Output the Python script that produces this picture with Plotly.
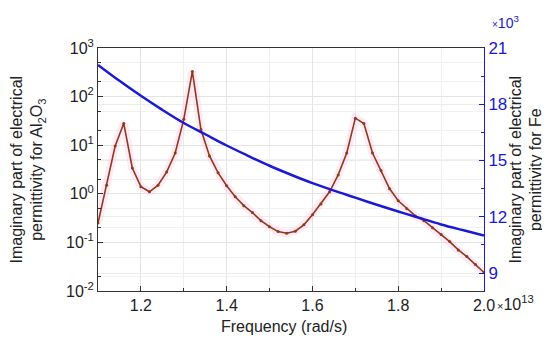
import plotly.graph_objects as go

# Frequency in units of 1e13 rad/s
freq_al = [1.10, 1.12, 1.14, 1.16, 1.18, 1.20, 1.22, 1.24, 1.26, 1.28,
           1.30, 1.32, 1.34, 1.36, 1.38, 1.40, 1.42, 1.44, 1.46, 1.48,
           1.50, 1.52, 1.54, 1.56, 1.58, 1.60, 1.62, 1.64, 1.66, 1.68,
           1.70, 1.72, 1.74, 1.76, 1.78, 1.80, 1.82, 1.84, 1.86, 1.88,
           1.90, 1.92, 1.94, 1.96, 1.98, 2.00]
eps_al = [0.25, 1.5, 9.6, 28, 3.4, 1.4, 1.1, 1.5, 2.8, 6.9,
          34, 330, 21, 6.0, 2.7, 1.46, 0.87, 0.57, 0.41, 0.28,
          0.21, 0.167, 0.154, 0.17, 0.23, 0.37, 0.62, 1.1, 2.45, 6.9,
          36, 28, 6.9, 3.0, 1.27, 0.72, 0.49, 0.35, 0.28, 0.20,
          0.145, 0.104, 0.07, 0.051, 0.035, 0.024]

freq_fe = [1.10, 1.15, 1.20, 1.25, 1.30, 1.35, 1.40, 1.45, 1.50, 1.55,
           1.60, 1.65, 1.70, 1.75, 1.80, 1.85, 1.90, 1.95, 2.00]
eps_fe = [20.1, 19.25, 18.45, 17.7, 17.0, 16.4, 15.8, 15.25, 14.72, 14.24,
          13.79, 13.39, 13.02, 12.64, 12.28, 11.93, 11.59, 11.29, 11.0]  # x1e3

x_ticks = [1.2, 1.4, 1.6, 1.8, 2.0]
x_ticklabels = ["1.2", "1.4", "1.6", "1.8", "2.0"]
yl_ticks = [0.01, 0.1, 1, 10, 100, 1000]
yl_ticklabels = ["10<sup>-2</sup>", "10<sup>-1</sup>", "10<sup>0</sup>",
                 "10<sup>1</sup>", "10<sup>2</sup>", "10<sup>3</sup>"]
yr_ticks = [9, 12, 15, 18, 21]
yr_ticklabels = ["9", "12", "15", "18", "21"]

RED = "#8e3a18"
BLUE = "#1a1ad6"
FONT = "Arial, Liberation Sans, sans-serif"

fig = go.Figure()
# faint pink halo
fig.add_trace(go.Scatter(x=freq_al, y=eps_al, mode="lines",
                         line=dict(color="rgba(255,190,230,0.3)", width=8),
                         hoverinfo="skip", showlegend=False))
fig.add_trace(go.Scatter(x=freq_al, y=eps_al, mode="lines+markers",
                         line=dict(color=RED, width=1.6),
                         marker=dict(color=RED, size=3),
                         showlegend=False))
fig.add_trace(go.Scatter(x=freq_fe, y=eps_fe, mode="lines", yaxis="y2",
                         line=dict(color=BLUE, width=2.5, shape="spline"),
                         showlegend=False))

fig.update_layout(
    width=550, height=338,
    margin=dict(l=90, r=74, t=40, b=55),
    paper_bgcolor="white", plot_bgcolor="white",
    font=dict(family=FONT, size=15, color="#222"),
    xaxis=dict(range=[1.1, 2.0], tickvals=x_ticks, ticktext=x_ticklabels,
               ticks="inside", ticklen=5, tickcolor="#333",
               showline=True, linecolor="#333", linewidth=1, mirror=True,
               showgrid=True, gridcolor="#e4e4e4", gridwidth=1,
               minor=dict(dtick=0.1, ticks="inside", ticklen=3,
                          tickcolor="#333", showgrid=True, gridcolor="#eeeeee"),
               zeroline=False, tickfont=dict(size=16)),
    yaxis=dict(type="log", range=[-2, 3], tickvals=yl_ticks,
               ticktext=yl_ticklabels, ticks="inside", ticklen=5,
               tickcolor="#333", showline=True, linecolor="#333",
               showgrid=True, gridcolor="#e4e4e4",
               minor=dict(ticks="inside", ticklen=3, tickcolor="#333",
                          showgrid=True, gridcolor="#f2f2f2"),
               zeroline=False, tickfont=dict(size=16)),
    yaxis2=dict(overlaying="y", side="right", range=[8.04, 21],
                tickvals=yr_ticks, ticktext=yr_ticklabels,
                ticks="inside", ticklen=5, tickcolor=BLUE,
                showline=True, linecolor=BLUE, linewidth=1,
                showgrid=True, gridcolor="#ececec",
                minor=dict(dtick=1.5, tick0=9, ticks="inside", ticklen=3,
                           tickcolor=BLUE),
                zeroline=False, tickfont=dict(size=17, color=BLUE)),
)

fig.add_annotation(text="Imaginary part of electrical<br>permittivity for Al<sub>2</sub>O<sub>3</sub>",
                   xref="paper", yref="paper", x=0, y=0.5, xshift=-71,
                   xanchor="center", yanchor="middle", textangle=-90,
                   showarrow=False, font=dict(size=16, color="#222"))
fig.add_annotation(text="Imaginary part of electrical<br>permittivity for Fe",
                   xref="paper", yref="paper", x=1, y=0.5, xshift=41,
                   xanchor="center", yanchor="middle", textangle=-90,
                   showarrow=False, font=dict(size=16, color="#222"))
fig.add_annotation(text="Frequency (rad/s)", xref="paper", yref="paper",
                   x=0.5, y=0, xshift=-7, yshift=-35, xanchor="center",
                   yanchor="middle", showarrow=False,
                   font=dict(size=16, color="#222"))
fig.add_annotation(text="<span style='font-size:11px'>×</span>10<sup>13</sup>",
                   xref="paper", yref="paper", x=1, y=0, xshift=11,
                   yshift=-12, xanchor="left", yanchor="middle",
                   showarrow=False, font=dict(size=16, color="#222"))
fig.add_annotation(text="<span style='font-size:10px'>×</span>10<sup>3</sup>",
                   xref="paper", yref="paper", x=1, y=1, xshift=6,
                   yshift=26, xanchor="left", yanchor="middle",
                   showarrow=False, font=dict(size=14, color=BLUE))

fig.write_html("out.html")
